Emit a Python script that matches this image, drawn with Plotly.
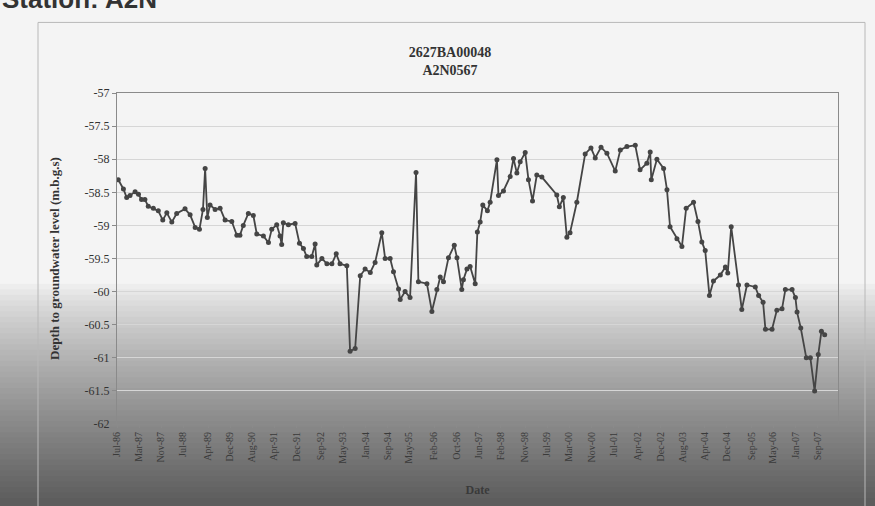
import plotly.graph_objects as go

dates = [
    "1986-07-15", "1986-09-10", "1986-10-16", "1986-11-22", "1987-01-17", "1987-02-23",
    "1987-03-29", "1987-05-05", "1987-06-11", "1987-08-06", "1987-09-30", "1987-11-18",
    "1988-01-02", "1988-02-26", "1988-04-20", "1988-07-21", "1988-09-15", "1988-11-10",
    "1988-12-27", "1989-02-04", "1989-02-28", "1989-03-24", "1989-04-23", "1989-06-18",
    "1989-08-12", "1989-10-06", "1989-12-19", "1990-02-13", "1990-03-19", "1990-04-25",
    "1990-06-20", "1990-08-14", "1990-09-21", "1990-12-03", "1991-01-28", "1991-03-05",
    "1991-04-29", "1991-06-05", "1991-06-23", "1991-07-11", "1991-09-05", "1991-11-18",
    "1992-01-05", "1992-02-18", "1992-03-25", "1992-05-20", "1992-06-26", "1992-07-14",
    "1992-09-09", "1992-11-03", "1992-12-28", "1993-02-14", "1993-03-28", "1993-06-11",
    "1993-07-17", "1993-09-11", "1993-11-06", "1993-12-30", "1994-02-25", "1994-04-19",
    "1994-07-02", "1994-08-08", "1994-10-02", "1994-11-08", "1995-01-03", "1995-01-21",
    "1995-03-16", "1995-05-10", "1995-07-15", "1995-08-10", "1995-11-12", "1996-01-06",
    "1996-03-01", "1996-04-07", "1996-05-13", "1996-07-07", "1996-09-09", "1996-10-09",
    "1996-12-01", "1996-12-19", "1997-01-27", "1997-03-03", "1997-04-28", "1997-05-22",
    "1997-06-22", "1997-07-21", "1997-09-10", "1997-10-10", "1997-12-24", "1998-01-10",
    "1998-03-06", "1998-05-19", "1998-06-25", "1998-08-01", "1998-09-07", "1998-11-01",
    "1998-12-07", "1999-01-21", "1999-03-09", "1999-05-04", "1999-10-16", "1999-11-13",
    "1999-12-27", "2000-02-04", "2000-03-10", "2000-05-24", "2000-08-24", "2000-10-27",
    "2000-12-13", "2001-02-15", "2001-04-21", "2001-07-22", "2001-09-16", "2001-11-28",
    "2002-02-28", "2002-04-22", "2002-07-06", "2002-08-12", "2002-08-24", "2002-10-25",
    "2003-01-07", "2003-02-13", "2003-03-19", "2003-06-03", "2003-07-28", "2003-09-13",
    "2003-12-03", "2004-01-21", "2004-03-04", "2004-04-10", "2004-05-27", "2004-07-10",
    "2004-09-24", "2004-11-19", "2004-12-15", "2005-01-22", "2005-04-13", "2005-05-19",
    "2005-07-15", "2005-10-15", "2005-11-21", "2006-01-09", "2006-02-04", "2006-04-18",
    "2006-06-10", "2006-08-06", "2006-09-12", "2006-11-25", "2007-01-01", "2007-01-19",
    "2007-03-01", "2007-05-01", "2007-06-15", "2007-08-01", "2007-09-10", "2007-10-15",
    "2007-11-20",
]
depth = [
    -58.31, -58.45, -58.58, -58.55, -58.49, -58.53,
    -58.61, -58.61, -58.71, -58.74, -58.78, -58.92,
    -58.81, -58.95, -58.82, -58.75, -58.84, -59.03,
    -59.06, -58.76, -58.14, -58.88, -58.69, -58.76,
    -58.74, -58.92, -58.94, -59.15, -59.15, -59.00,
    -58.82, -58.85, -59.13, -59.16, -59.26, -59.06,
    -58.99, -59.16, -59.29, -58.96, -58.99, -58.97,
    -59.27, -59.35, -59.47, -59.47, -59.28, -59.60,
    -59.50, -59.58, -59.58, -59.43, -59.58, -59.61,
    -60.90, -60.86, -59.76, -59.66, -59.71, -59.56,
    -59.11, -59.50, -59.50, -59.70, -59.96, -60.12,
    -60.00, -60.09, -58.20, -59.85, -59.88, -60.30,
    -59.97, -59.78, -59.85, -59.49, -59.30, -59.49,
    -59.97, -59.82, -59.66, -59.62, -59.88, -59.10,
    -58.95, -58.69, -58.78, -58.65, -58.01, -58.55,
    -58.48, -58.26, -57.99, -58.21, -58.04, -57.90,
    -58.31, -58.63, -58.24, -58.27, -58.54, -58.72,
    -58.58, -59.18, -59.11, -58.65, -57.92, -57.83,
    -57.98, -57.82, -57.91, -58.18, -57.86, -57.81,
    -57.79, -58.16, -58.06, -57.89, -58.31, -58.00,
    -58.14, -58.46, -59.02, -59.20, -59.32, -58.74,
    -58.65, -58.94, -59.25, -59.38, -60.06, -59.84,
    -59.75, -59.63, -59.72, -59.02, -59.90, -60.27,
    -59.90, -59.93, -60.06, -60.16, -60.57, -60.57,
    -60.28, -60.26, -59.97, -59.97, -60.09, -60.31,
    -60.55, -61.00, -61.00, -61.50, -60.95, -60.60,
    -60.65,
]

tick_dates = [
    "1986-07-01", "1987-03-01", "1987-11-01", "1988-07-01", "1989-04-01", "1989-12-01",
    "1990-08-01", "1991-04-01", "1991-12-01", "1992-09-01", "1993-05-01", "1994-01-01",
    "1994-09-01", "1995-05-01", "1996-02-01", "1996-10-01", "1997-06-01", "1998-02-01",
    "1998-11-01", "1999-07-01", "2000-03-01", "2000-11-01", "2001-07-01", "2002-04-01",
    "2002-12-01", "2003-08-01", "2004-04-01", "2004-12-01", "2005-09-01", "2006-05-01",
    "2007-01-01", "2007-09-01",
]
tick_labels = [
    "Jul-86", "Mar-87", "Nov-87", "Jul-88", "Apr-89", "Dec-89",
    "Aug-90", "Apr-91", "Dec-91", "Sep-92", "May-93", "Jan-94",
    "Sep-94", "May-95", "Feb-96", "Oct-96", "Jun-97", "Feb-98",
    "Nov-98", "Jul-99", "Mar-00", "Nov-00", "Jul-01", "Apr-02",
    "Dec-02", "Aug-03", "Apr-04", "Dec-04", "Sep-05", "May-06",
    "Jan-07", "Sep-07",
]
y_ticks = [-57, -57.5, -58, -58.5, -59, -59.5, -60, -60.5, -61, -61.5, -62]

W, H = 875, 506
L, R, T, B = 117, 37, 93, 80
SERIF = "Liberation Serif, Times New Roman, serif"

fig = go.Figure()
fig.add_trace(go.Scatter(
    x=dates, y=depth, mode="lines+markers",
    line=dict(color="#454545", width=1.8),
    marker=dict(color="#454545", size=5, symbol="circle"),
    showlegend=False,
))

# photographed-page shading: overlapping grey slabs darkening towards the bottom
ph = H - T - B
pw = W - L - R
shapes = []
n_bands = 40
top_px = 285
for i in range(n_bands):
    y0px = top_px + i * (H - top_px) / n_bands
    frac = (i + 0.5) / n_bands
    g = int(242 - 150 * frac ** 0.8)
    shapes.append(dict(
        type="rect", xref="paper", yref="paper", layer="below",
        x0=-L / pw - 0.01, x1=(W - L) / pw + 0.01,
        y0=(H - B - H - 5) / ph, y1=(H - B - y0px) / ph,
        fillcolor=f"rgb({g},{g},{g})", line=dict(width=0),
    ))
# outer chart frame
shapes.append(dict(
    type="rect", xref="paper", yref="paper", layer="below",
    x0=(38 - L) / pw, x1=(865 - L) / pw,
    y0=(H - B - 520) / ph, y1=(H - B - 22) / ph,
    line=dict(color="#b8b8b8", width=1), fillcolor="rgba(0,0,0,0)",
))

fig.update_layout(
    width=W, height=H,
    margin=dict(l=L, r=R, t=T, b=B),
    paper_bgcolor="#f4f4f4",
    plot_bgcolor="rgba(0,0,0,0)",
    font=dict(family=SERIF, color="#333333", size=12),
    title=dict(
        text="<b>2627BA00048<br>A2N0567</b>",
        x=450 / W, xanchor="center",
        y=1 - 57 / H, yanchor="middle",
        font=dict(family=SERIF, size=14, color="#333333"),
    ),
    shapes=shapes,
    annotations=[dict(
        text="<b>Station: A2N</b>", xref="paper", yref="paper",
        x=-L / pw, xanchor="left", y=(H - B + 2) / ph, yanchor="middle",
        showarrow=False, font=dict(family="Liberation Sans, Arial", size=26, color="#333333"),
    )],
)
fig.update_xaxes(
    type="date", range=["1986-07-01", "2008-04-15"],
    tickvals=tick_dates, ticktext=tick_labels, tickangle=-90,
    tickfont=dict(family=SERIF, size=10, color="#3a3a3a"),
    showgrid=False, showline=True, linecolor="#8a8a8a", mirror=True,
    ticks="outside", ticklen=3, tickcolor="#8a8a8a",
    title=dict(text="<b>Date</b>", font=dict(family=SERIF, size=12, color="#3a3a3a"), standoff=22),
)
fig.update_yaxes(
    range=[-62, -57], tickvals=y_ticks, ticktext=[f"{v:g}" for v in y_ticks],
    tickfont=dict(family=SERIF, size=12, color="#333333"),
    showgrid=True, gridcolor="#d6d6d6", gridwidth=1,
    showline=True, linecolor="#8a8a8a", mirror=True, zeroline=False,
    ticks="outside", ticklen=4, tickcolor="#8a8a8a",
    title=dict(text="<b>Depth to groundwater level (m.b.g.s)</b>",
               font=dict(family=SERIF, size=13, color="#333333"), standoff=22),
)

fig.write_html("out.html", config={"displayModeBar": False},
               post_script="document.body.style.margin='0';")
